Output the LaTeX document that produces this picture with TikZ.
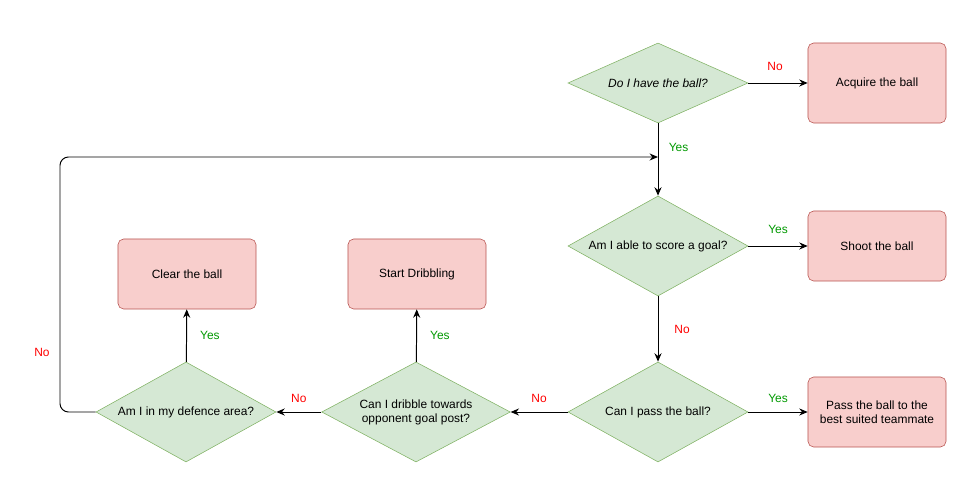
\documentclass[tikz,border=0pt]{standalone}
\usepackage{fontspec}
\setmainfont{Liberation Sans}
\usetikzlibrary{shapes.geometric,arrows.meta}
\definecolor{gf}{HTML}{D5E8D4}\definecolor{gs}{HTML}{82B366}
\definecolor{rf}{HTML}{F8CECC}\definecolor{rs}{HTML}{B85450}
\definecolor{yes}{HTML}{009900}\definecolor{no}{HTML}{FF0000}
\begin{document}
\begin{tikzpicture}[x=0.025cm,y=-0.025cm,
 dec/.style={diamond,draw=gs,fill=gf,inner sep=0,aspect=3,minimum width=4.5cm,minimum height=2.5cm,align=center,font=\fontsize{8.5}{10}\selectfont},
 box/.style={rectangle,rounded corners=4pt,draw=rs,fill=rf,minimum width=3.45cm,minimum height=1.75cm,align=center,font=\fontsize{8.5}{10}\selectfont},
 arr/.style={-{Stealth[length=6pt,width=5pt]},line width=0.7pt},
 lyes/.style={text=yes,font=\fontsize{8.5}{10}\selectfont},
 lno/.style={text=no,font=\fontsize{8.5}{10}\selectfont}]
\useasboundingbox (0,0) rectangle (980,477);
\node[dec,minimum height=2cm] (d1) at (658,83) {\itshape Do I have the ball?};
\node[dec] (d2) at (658,246) {Am I able to score a goal?};
\node[dec] (d3) at (658,412) {Can I pass the ball?};
\node[dec] (d4) at (416,412) {Can I dribble towards\\opponent goal post?};
\node[dec] (d5) at (186,412) {Am I in my defence area?};
\node[box,minimum height=2cm] (b1) at (877,83) {Acquire the ball};
\node[box] (b2) at (877,246) {Shoot the ball};
\node[box] (b3) at (877,412) {Pass the ball to the\\best suited teammate};
\node[box] (b4) at (417,274) {Start Dribbling};
\node[box] (b5) at (187,274) {Clear the ball};
\coordinate (j) at (658,157);
\draw[arr] (d1) -- (b1) node[lno,pos=0.45,above=5pt] {No};
\draw[arr] (d1) -- (d2) node[lyes,pos=0.33,right=4pt] {Yes};
\draw[arr] (d2) -- (b2) node[lyes,midway,above=5pt] {Yes};
\draw[arr] (d2) -- (d3) node[lno,midway,right=8pt] {No};
\draw[arr] (d3) -- (b3) node[lyes,midway,above=3pt] {Yes};
\draw[arr] (d3) -- (d4) node[lno,midway,above=3pt] {No};
\draw[arr] (d4) -- (b4) node[lyes,midway,right=6pt] {Yes};
\draw[arr] (d4) -- (d5) node[lno,midway,above=3pt] {No};
\draw[arr] (d5) -- (b5) node[lyes,midway,right=6pt] {Yes};
\draw[arr,rounded corners=6pt] (d5.west) -- (60,412) -- (60,157) -- (j);
\node[lno] at (42,352) {No};
\end{tikzpicture}
\end{document}
